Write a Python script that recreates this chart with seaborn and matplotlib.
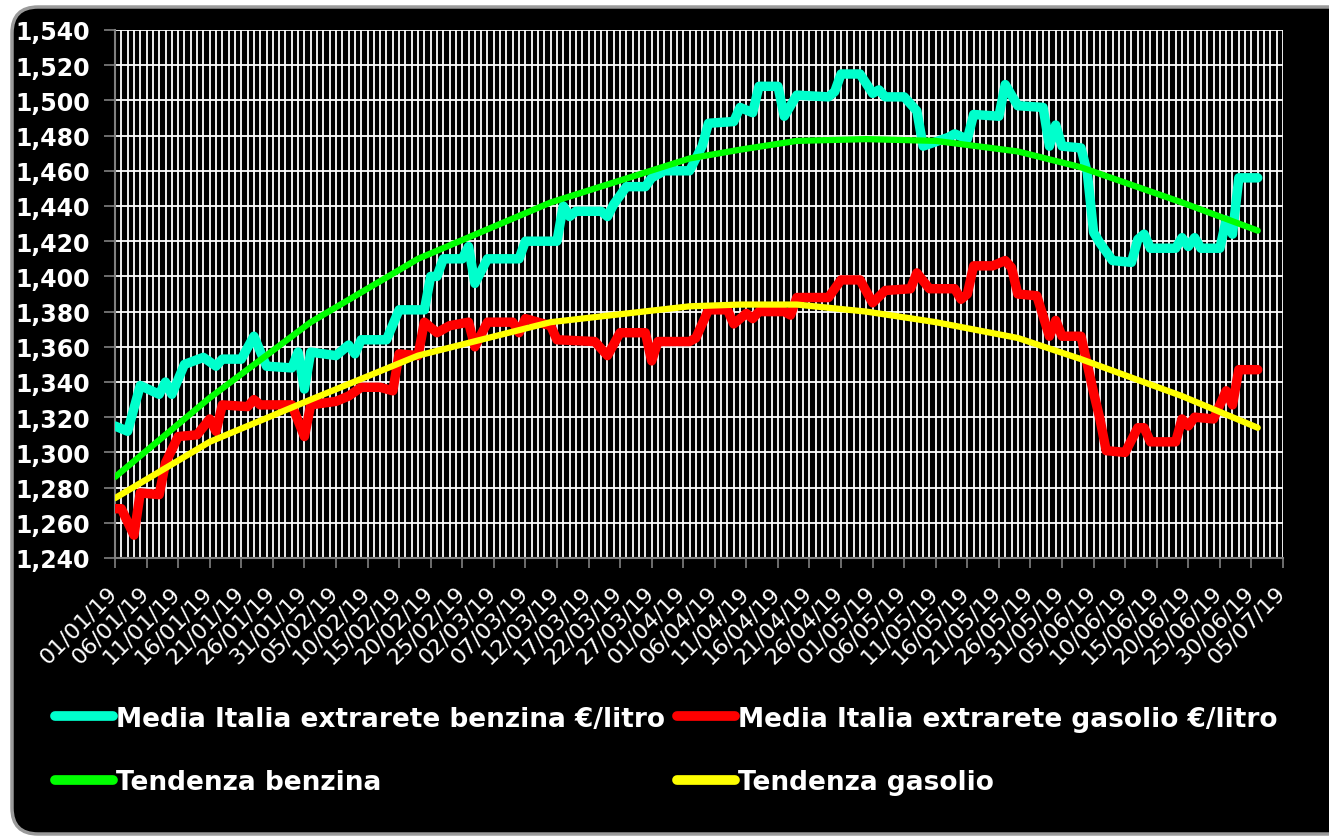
import matplotlib
matplotlib.use("Agg")
import matplotlib.pyplot as plt
import matplotlib.dates as mdates
import matplotlib.ticker as mticker
from matplotlib.patches import FancyBboxPatch
from matplotlib.lines import Line2D
from matplotlib.transforms import ScaledTranslation
import seaborn as sns
import pandas as pd

# Media Italia extrarete benzina (EUR/litro)
date_benzina = [
    "2019-01-01", "2019-01-03", "2019-01-05", "2019-01-08", "2019-01-09", "2019-01-10",
    "2019-01-12", "2019-01-15", "2019-01-17", "2019-01-18", "2019-01-21", "2019-01-23",
    "2019-01-25", "2019-01-29", "2019-01-30", "2019-01-31", "2019-02-01", "2019-02-05",
    "2019-02-07", "2019-02-08", "2019-02-09", "2019-02-13", "2019-02-15", "2019-02-19",
    "2019-02-20", "2019-02-21", "2019-02-22", "2019-02-25", "2019-02-26", "2019-02-27",
    "2019-03-01", "2019-03-06", "2019-03-07", "2019-03-12", "2019-03-13", "2019-03-14",
    "2019-03-15", "2019-03-19", "2019-03-20", "2019-03-21", "2019-03-23", "2019-03-26",
    "2019-03-27", "2019-03-29", "2019-04-02", "2019-04-04", "2019-04-05", "2019-04-09",
    "2019-04-10", "2019-04-12", "2019-04-13", "2019-04-16", "2019-04-17", "2019-04-19",
    "2019-04-24", "2019-04-25", "2019-04-26", "2019-04-29", "2019-05-01", "2019-05-02",
    "2019-05-03", "2019-05-06", "2019-05-08", "2019-05-09", "2019-05-13", "2019-05-14",
    "2019-05-16", "2019-05-17", "2019-05-21", "2019-05-22", "2019-05-24", "2019-05-28",
    "2019-05-29", "2019-05-30", "2019-05-31", "2019-06-03", "2019-06-04", "2019-06-05",
    "2019-06-06", "2019-06-08", "2019-06-11", "2019-06-12", "2019-06-13", "2019-06-14",
    "2019-06-18", "2019-06-19", "2019-06-20", "2019-06-21", "2019-06-22", "2019-06-25",
    "2019-06-26", "2019-06-27", "2019-06-28", "2019-07-01",
]
prezzo_benzina = [
    1.315, 1.312, 1.338, 1.333, 1.340, 1.333,
    1.350, 1.354, 1.349, 1.353, 1.353, 1.366,
    1.349, 1.348, 1.357, 1.336, 1.357, 1.355,
    1.361, 1.356, 1.364, 1.364, 1.381, 1.381,
    1.400, 1.400, 1.410, 1.410, 1.417, 1.396,
    1.410, 1.410, 1.420, 1.420, 1.440, 1.434,
    1.437, 1.437, 1.434, 1.441, 1.451, 1.451,
    1.456, 1.460, 1.460, 1.474, 1.487, 1.488,
    1.496, 1.493, 1.508, 1.508, 1.491, 1.503,
    1.502, 1.505, 1.515, 1.515, 1.504, 1.506,
    1.502, 1.502, 1.494, 1.474, 1.479, 1.481,
    1.478, 1.492, 1.491, 1.509, 1.497, 1.496,
    1.474, 1.486, 1.474, 1.473, 1.459, 1.425,
    1.419, 1.409, 1.408, 1.421, 1.424, 1.416,
    1.416, 1.422, 1.417, 1.422, 1.416, 1.416,
    1.432, 1.424, 1.456, 1.456,
]

# Media Italia extrarete gasolio (EUR/litro)
date_gasolio = [
    "2019-01-01", "2019-01-02", "2019-01-04", "2019-01-05", "2019-01-08", "2019-01-09",
    "2019-01-11", "2019-01-14", "2019-01-16", "2019-01-17", "2019-01-18", "2019-01-22",
    "2019-01-23", "2019-01-24", "2019-01-29", "2019-01-31", "2019-02-01", "2019-02-05",
    "2019-02-07", "2019-02-09", "2019-02-12", "2019-02-14", "2019-02-15", "2019-02-18",
    "2019-02-19", "2019-02-21", "2019-02-23", "2019-02-26", "2019-02-27", "2019-03-01",
    "2019-03-05", "2019-03-06", "2019-03-07", "2019-03-11", "2019-03-12", "2019-03-18",
    "2019-03-20", "2019-03-22", "2019-03-26", "2019-03-27", "2019-03-28", "2019-04-02",
    "2019-04-03", "2019-04-05", "2019-04-08", "2019-04-09", "2019-04-11", "2019-04-12",
    "2019-04-13", "2019-04-17", "2019-04-18", "2019-04-19", "2019-04-24", "2019-04-26",
    "2019-04-29", "2019-05-01", "2019-05-03", "2019-05-07", "2019-05-08", "2019-05-10",
    "2019-05-14", "2019-05-15", "2019-05-16", "2019-05-17", "2019-05-20", "2019-05-22",
    "2019-05-23", "2019-05-24", "2019-05-27", "2019-05-29", "2019-05-30", "2019-05-31",
    "2019-06-03", "2019-06-05", "2019-06-06", "2019-06-07", "2019-06-10", "2019-06-12",
    "2019-06-13", "2019-06-14", "2019-06-18", "2019-06-19", "2019-06-20", "2019-06-21",
    "2019-06-24", "2019-06-26", "2019-06-27", "2019-06-28", "2019-07-01",
]
prezzo_gasolio = [
    1.268, 1.268, 1.253, 1.277, 1.276, 1.294,
    1.309, 1.310, 1.319, 1.312, 1.327, 1.326,
    1.330, 1.327, 1.327, 1.309, 1.327, 1.329,
    1.332, 1.337, 1.337, 1.335, 1.356, 1.355,
    1.374, 1.368, 1.372, 1.374, 1.360, 1.374,
    1.374, 1.368, 1.376, 1.372, 1.364, 1.363,
    1.355, 1.368, 1.368, 1.352, 1.363, 1.363,
    1.365, 1.381, 1.381, 1.373, 1.379, 1.376,
    1.380, 1.380, 1.378, 1.388, 1.388, 1.398,
    1.398, 1.385, 1.392, 1.393, 1.402, 1.393,
    1.393, 1.387, 1.390, 1.406, 1.406, 1.409,
    1.405, 1.390, 1.389, 1.366, 1.375, 1.366,
    1.366, 1.334, 1.319, 1.301, 1.300, 1.314,
    1.314, 1.306, 1.306, 1.319, 1.315, 1.320,
    1.319, 1.335, 1.327, 1.347, 1.347,
]

# Linee di tendenza
date_tendenza = [
    "2019-01-01", "2019-01-16", "2019-02-01", "2019-02-18", "2019-03-11", "2019-04-02",
    "2019-04-10", "2019-04-19", "2019-04-30", "2019-05-11", "2019-05-24", "2019-06-03",
    "2019-06-19", "2019-07-01",
]
tendenza_benzina = [
    1.286, 1.331, 1.374, 1.410, 1.442, 1.467,
    1.472, 1.477, 1.478, 1.477, 1.471, 1.462,
    1.442, 1.426,
]
tendenza_gasolio = [
    1.274, 1.306, 1.330, 1.355, 1.374, 1.383,
    1.384, 1.384, 1.380, 1.374, 1.365, 1.353,
    1.332, 1.314,
]

etichette = [
    "Media Italia extrarete benzina €/litro",
    "Media Italia extrarete gasolio €/litro",
    "Tendenza benzina",
    "Tendenza gasolio",
]
colori = ["#00FFCC", "#FF0000", "#00FF00", "#FFFF00"]

sns.set_theme(style="dark")
plt.rcParams["font.family"] = ["DejaVu Sans"]

W, H = 1329, 837
fig = plt.figure(figsize=(W / 100, H / 100), dpi=100, facecolor="white")

# black rounded frame behind the chart (runs off the right edge)
box = FancyBboxPatch((12 / W, 2 / H), 2.0, 827 / H,
                     boxstyle="round,pad=0,rounding_size=0.0196",
                     mutation_aspect=W / H, transform=fig.transFigure,
                     facecolor="black", edgecolor="#9a9a9a", linewidth=2.5, zorder=0)
fig.add_artist(box)

ax = fig.add_axes([115 / W, 1 - 559 / H, 1168 / W, 528 / H])
ax.set_facecolor("black")

df_b = pd.DataFrame({"data": pd.to_datetime(date_benzina), "prezzo": prezzo_benzina})
df_g = pd.DataFrame({"data": pd.to_datetime(date_gasolio), "prezzo": prezzo_gasolio})
df_t = pd.DataFrame({"data": pd.to_datetime(date_tendenza),
                     "benzina": tendenza_benzina, "gasolio": tendenza_gasolio})

kw = dict(solid_joinstyle="round", solid_capstyle="round")
sns.lineplot(data=df_b, x="data", y="prezzo", color=colori[0], linewidth=6.8, ax=ax, zorder=3, **kw)
sns.lineplot(data=df_g, x="data", y="prezzo", color=colori[1], linewidth=6.8, ax=ax, zorder=3, **kw)
sns.lineplot(data=df_t, x="data", y="benzina", color=colori[2], linewidth=4.5, ax=ax, zorder=4, **kw)
sns.lineplot(data=df_t, x="data", y="gasolio", color=colori[3], linewidth=4.5, ax=ax, zorder=4, **kw)

ax.set_xlim(pd.Timestamp("2019-01-01"), pd.Timestamp("2019-07-05"))
ax.set_ylim(1.24, 1.54)
ax.set_xlabel("")
ax.set_ylabel("")

ax.set_xticks(pd.date_range("2019-01-01", "2019-07-05", freq="5D"))
ax.xaxis.set_major_formatter(mdates.DateFormatter("%d/%m/%y"))
ax.xaxis.set_minor_locator(mdates.DayLocator())
ax.yaxis.set_major_locator(mticker.MultipleLocator(0.02))
ax.yaxis.set_major_formatter(mticker.FuncFormatter(lambda v, p: f"{v:.3f}".replace(".", ",")))

ax.grid(which="both", axis="x", color="white", linewidth=1.3)
ax.grid(which="major", axis="y", color="white", linewidth=1.3)
ax.set_axisbelow(True)

for s in ["top", "right"]:
    ax.spines[s].set_visible(False)
for s in ["left", "bottom"]:
    ax.spines[s].set_visible(True)
    ax.spines[s].set_color("#808080")
    ax.spines[s].set_linewidth(1.5)

ax.tick_params(axis="y", which="major", direction="out", length=8, width=1.2,
               color="#808080", labelcolor="white", labelsize=17, pad=10, left=True)
ax.tick_params(axis="x", which="major", direction="out", length=7, width=1.2,
               color="#808080", labelcolor="white", labelsize=16, pad=10, bottom=True)
ax.tick_params(axis="x", which="minor", length=0)
for lab in ax.get_yticklabels():
    lab.set_fontweight("bold")
shift = ScaledTranslation(-0.08, 0, fig.dpi_scale_trans)
for lab in ax.get_xticklabels():
    lab.set_rotation(45)
    lab.set_ha("right")
    lab.set_va("top")
    lab.set_rotation_mode("anchor")
    lab.set_transform(lab.get_transform() + shift)

handles = [Line2D([], [], color=c, linewidth=7, solid_capstyle="round") for c in colori]
order = [0, 2, 1, 3]
leg = fig.legend([handles[i] for i in order], [etichette[i] for i in order],
                 ncol=2, loc="upper left", bbox_to_anchor=(44 / W, 1 - 696 / H),
                 frameon=False, handlelength=2.2, handletextpad=0.12,
                 columnspacing=0.45, labelspacing=1.42, borderaxespad=0,
                 prop={"family": "DejaVu Sans", "weight": "bold", "size": 19})
for t in leg.get_texts():
    t.set_color("white")

fig.savefig("out.png", dpi=100, facecolor="white")
